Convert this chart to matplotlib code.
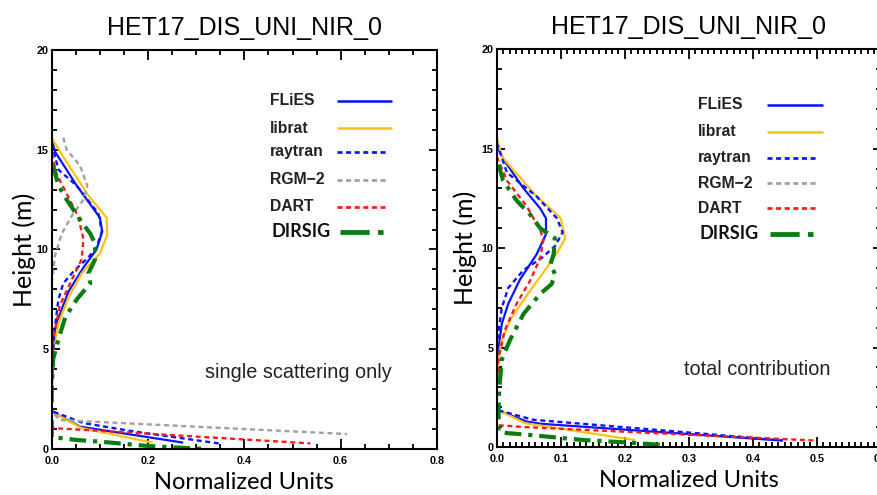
import matplotlib
matplotlib.use("Agg")
import matplotlib.pyplot as plt
from matplotlib.ticker import MultipleLocator, FormatStrFormatter

plt.rcParams['lines.scale_dashes'] = False

# ---------------- data ----------------
title = "HET17_DIS_UNI_NIR_0"
series_names = ["FLiES", "librat", "raytran", "RGM\u22122", "DART", "DIRSIG"]

# single scattering only (left)
flies_ss_v = [0.0, 0.007, 0.052, 0.100, 0.105, 0.093, 0.066, 0.035, 0.010, 0.001, 0.0, 0.0, 0.059, 0.273]
flies_ss_h = [15.5, 14.9, 13.2, 11.6, 10.9, 10.0, 9.1, 7.9, 6.3, 4.95, 3.0, 1.88, 1.12, 0.32]
librat_ss_v = [0.0, 0.02, 0.076, 0.114, 0.115, 0.100, 0.062, 0.035, 0.014, 0.003, 0.0, 0.0, 0.03, 0.062, 0.21]
librat_ss_h = [15.6, 14.8, 12.7, 11.6, 10.7, 9.8, 8.8, 7.6, 6.3, 4.95, 3.0, 1.9, 1.47, 1.05, 0.32]
raytran_ss_v = [0.0, 0.014, 0.052, 0.097, 0.104, 0.093, 0.076, 0.045, 0.024, 0.014, 0.005, 0.0, 0.0, 0.066, 0.17, 0.347]
raytran_ss_h = [15.3, 14.0, 13.2, 11.8, 10.9, 10.1, 9.6, 8.9, 8.3, 7.5, 5.8, 3.0, 1.9, 1.3, 0.88, 0.28]
rgm_ss_v = [0.024, 0.031, 0.059, 0.074, 0.066, 0.042, 0.021, 0.007, 0.0, 0.0, 0.0, 0.017, 0.613]
rgm_ss_h = [15.6, 15.0, 14.2, 13.2, 12.5, 11.7, 10.8, 9.7, 8.3, 3.0, 1.87, 1.45, 0.75]
dart_ss_v = [0.0, 0.01, 0.031, 0.055, 0.066, 0.062, 0.042, 0.017, 0.003, 0.0, 0.0, 0.0, 0.06, 0.537]
dart_ss_h = [14.8, 13.8, 12.8, 11.65, 10.5, 9.5, 8.5, 7.2, 5.5, 3.0, 2.0, 1.05, 0.97, 0.28]
dirsig_ss_v = [0.003, 0.014, 0.031, 0.066, 0.080, 0.090, 0.090, 0.076, 0.080, 0.052, 0.028, 0.014, 0.003, 0.0, 0.0, 0.0, 0.052, 0.10, 0.20, 0.32]
dirsig_ss_h = [14.2, 13.2, 12.5, 11.25, 10.8, 10.3, 9.5, 8.8, 8.3, 7.5, 6.6, 5.5, 4.5, 3.0, 1.9, 0.6, 0.45, 0.37, 0.15, 0.0]

# total contribution (right)
flies_tc_v = [0.0, 0.01, 0.042, 0.068, 0.077, 0.077, 0.0625, 0.036, 0.018, 0.008, 0.003, 0.0, 0.0, 0.047, 0.068, 0.447]
flies_tc_h = [15.2, 14.5, 13.0, 12.0, 11.5, 10.7, 9.7, 8.4, 7.2, 6.2, 5.0, 3.0, 1.87, 1.28, 1.17, 0.32]
librat_tc_v = [0.0, 0.008, 0.0625, 0.089, 0.100, 0.107, 0.096, 0.078, 0.052, 0.023, 0.008, 0.003, 0.0, 0.0, 0.044, 0.216]
librat_tc_h = [15.6, 14.6, 12.6, 11.85, 11.5, 10.5, 9.85, 9.0, 7.85, 6.5, 5.4, 4.5, 3.0, 1.9, 1.2, 0.35]
raytran_tc_v = [0.0, 0.016, 0.0625, 0.094, 0.103, 0.091, 0.07, 0.042, 0.018, 0.008, 0.001, 0.0, 0.0, 0.057, 0.447]
raytran_tc_h = [15.3, 13.8, 12.6, 11.5, 10.8, 10.1, 9.5, 8.9, 8.0, 7.0, 5.4, 3.0, 1.87, 1.37, 0.34]
rgm_tc_v = []
rgm_tc_h = []
dart_tc_v = [0.0, 0.016, 0.047, 0.068, 0.073, 0.068, 0.052, 0.031, 0.013, 0.003, 0.0, 0.0, 0.0, 0.045, 0.50]
dart_tc_h = [14.6, 13.4, 12.1, 10.9, 10.4, 9.5, 8.35, 7.2, 5.9, 4.5, 3.0, 2.0, 1.1, 1.0, 0.32]
dirsig_tc_v = [0.003, 0.010, 0.031, 0.052, 0.068, 0.091, 0.089, 0.084, 0.091, 0.086, 0.068, 0.042, 0.021, 0.008, 0.004, 0.003, 0.003, 0.016, 0.047, 0.135, 0.208, 0.26]
dirsig_tc_h = [14.2, 13.4, 12.4, 11.7, 11.0, 10.5, 9.7, 9.2, 8.7, 8.2, 7.7, 6.7, 5.4, 4.4, 2.9, 2.0, 0.8, 0.7, 0.62, 0.35, 0.22, 0.1]

left_note = "single scattering only"
right_note = "total contribution"
xlabel = "Normalized Units"
ylabel = "Height (m)"

# ---------------- styles ----------------
styles = [
    dict(color="#0a14ff", lw=1.6, ls="-"),
    dict(color="#ffc20e", lw=1.6, ls="-"),
    dict(color="#0a14ff", lw=1.7, dashes=(3.6, 2.6)),
    dict(color="#a0a0a0", lw=1.7, dashes=(3.6, 2.6)),
    dict(color="#ff1a1a", lw=1.7, dashes=(3.6, 2.6)),
    dict(color="#0a7d12", lw=3.0, dashes=(12, 5, 3, 5)),
]

SANS = ["Liberation Sans", "DejaVu Sans"]
LBL = ["Lato", "DejaVu Sans"]

fig = plt.figure(figsize=(8.77, 4.95), dpi=100)
axL = fig.add_axes([51.7/877, (495-449)/495, 385.3/877, 399/495])
axR = fig.add_axes([496.7/877, (495-447)/495, 384/877, 397.7/495])

def draw(ax, data, xmax, xmaj, xmin, note, note_xy, leg):
    for (v, h), st, name in zip(data, styles, series_names):
        kw = dict(color=st["color"], lw=st["lw"], solid_capstyle="butt", dash_capstyle="butt")
        if "dashes" in st:
            ax.plot(v, h, dashes=st["dashes"], **kw)
        else:
            ax.plot(v, h, ls=st["ls"], **kw)
    ax.set_xlim(0, xmax)
    ax.set_ylim(0, 20)
    ax.xaxis.set_major_locator(MultipleLocator(xmaj))
    ax.xaxis.set_minor_locator(MultipleLocator(xmin))
    ax.yaxis.set_major_locator(MultipleLocator(5))
    ax.yaxis.set_minor_locator(MultipleLocator(1))
    ax.xaxis.set_major_formatter(FormatStrFormatter("%.1f"))
    ax.yaxis.set_major_formatter(FormatStrFormatter("%d"))
    ax.tick_params(which="both", direction="in", top=True, right=True, width=1.3, colors="black")
    ax.tick_params(axis="x", which="major", length=7, pad=5)
    ax.tick_params(axis="x", which="minor", length=3.5)
    ax.tick_params(axis="y", which="major", length=5.5, pad=2.5)
    ax.tick_params(axis="y", which="minor", length=3.5)
    for lab in ax.get_xticklabels() + ax.get_yticklabels():
        lab.set_fontfamily(SANS)
        lab.set_fontweight("bold")
        lab.set_fontsize(7.8)
    for sp in ax.spines.values():
        sp.set_linewidth(1.5)
    ax.set_title(title, fontsize=18, family=SANS, pad=10.8)
    ax.set_xlabel(xlabel, fontsize=17, family=LBL)
    ax.set_ylabel(ylabel, fontsize=18, family=LBL)
    ax.text(note_xy[0], note_xy[1], note, transform=ax.transAxes, fontsize=14.3,
            family=SANS, color="#222222", ha="center", va="center")
    # legend drawn as label column + sample-line column
    tx, hx0, hx1, hx1d, rows = leg
    for i, (name, st, ry) in enumerate(zip(series_names, styles, rows)):
        if name == "DIRSIG":
            ax.text(tx + 0.003, ry, name, transform=ax.transAxes, fontsize=13, family=LBL,
                    fontweight="bold", ha="left", va="center", color="#111111")
        else:
            ax.text(tx, ry, name, transform=ax.transAxes, fontsize=11.3, family=SANS,
                    fontweight="bold", ha="left", va="center", color="#222222")
        x1 = hx1 if "dashes" not in st else hx1d
        kw = dict(color=st["color"], lw=st["lw"] * 1.15, transform=ax.transAxes,
                  solid_capstyle="butt", dash_capstyle="butt", clip_on=False)
        if name == "DIRSIG":
            ax.plot([hx0 + 0.008, x1 - 0.005], [ry, ry], dashes=(21, 6, 4, 6), **kw)
        elif "dashes" in st:
            ax.plot([hx0, x1], [ry, ry], dashes=(3.6, 2.6), **kw)
        else:
            ax.plot([hx0, x1], [ry, ry], ls="-", **kw)

dataL = [(flies_ss_v, flies_ss_h), (librat_ss_v, librat_ss_h), (raytran_ss_v, raytran_ss_h),
         (rgm_ss_v, rgm_ss_h), (dart_ss_v, dart_ss_h), (dirsig_ss_v, dirsig_ss_h)]
dataR = [(flies_tc_v, flies_tc_h), (librat_tc_v, librat_tc_h), (raytran_tc_v, raytran_tc_h),
         (rgm_tc_v, rgm_tc_h), (dart_tc_v, dart_tc_h), (dirsig_tc_v, dirsig_tc_h)]

draw(axL, dataL, 0.8, 0.2, 0.05, left_note, (0.640, 0.192),
     (0.5666, 0.7405, 0.8832, 0.8728, [0.8729, 0.8045, 0.7451, 0.6742, 0.6073, 0.5446]))
draw(axR, dataR, 0.6, 0.1, 0.01, right_note, (0.678, 0.194),
     (0.525, 0.703, 0.849, 0.837, [0.860, 0.793, 0.7274, 0.663, 0.600, 0.5356]))

axL.yaxis.set_label_coords(-0.072, 0.5)
axR.yaxis.set_label_coords(-0.0826, 0.5)
for ax in (axL, axR):
    ax.xaxis.set_label_coords(0.5, -0.083)
    ax.xaxis.label.set_va("center")
    ax.yaxis.label.set_va("center")

fig.savefig("out.png", dpi=100)
